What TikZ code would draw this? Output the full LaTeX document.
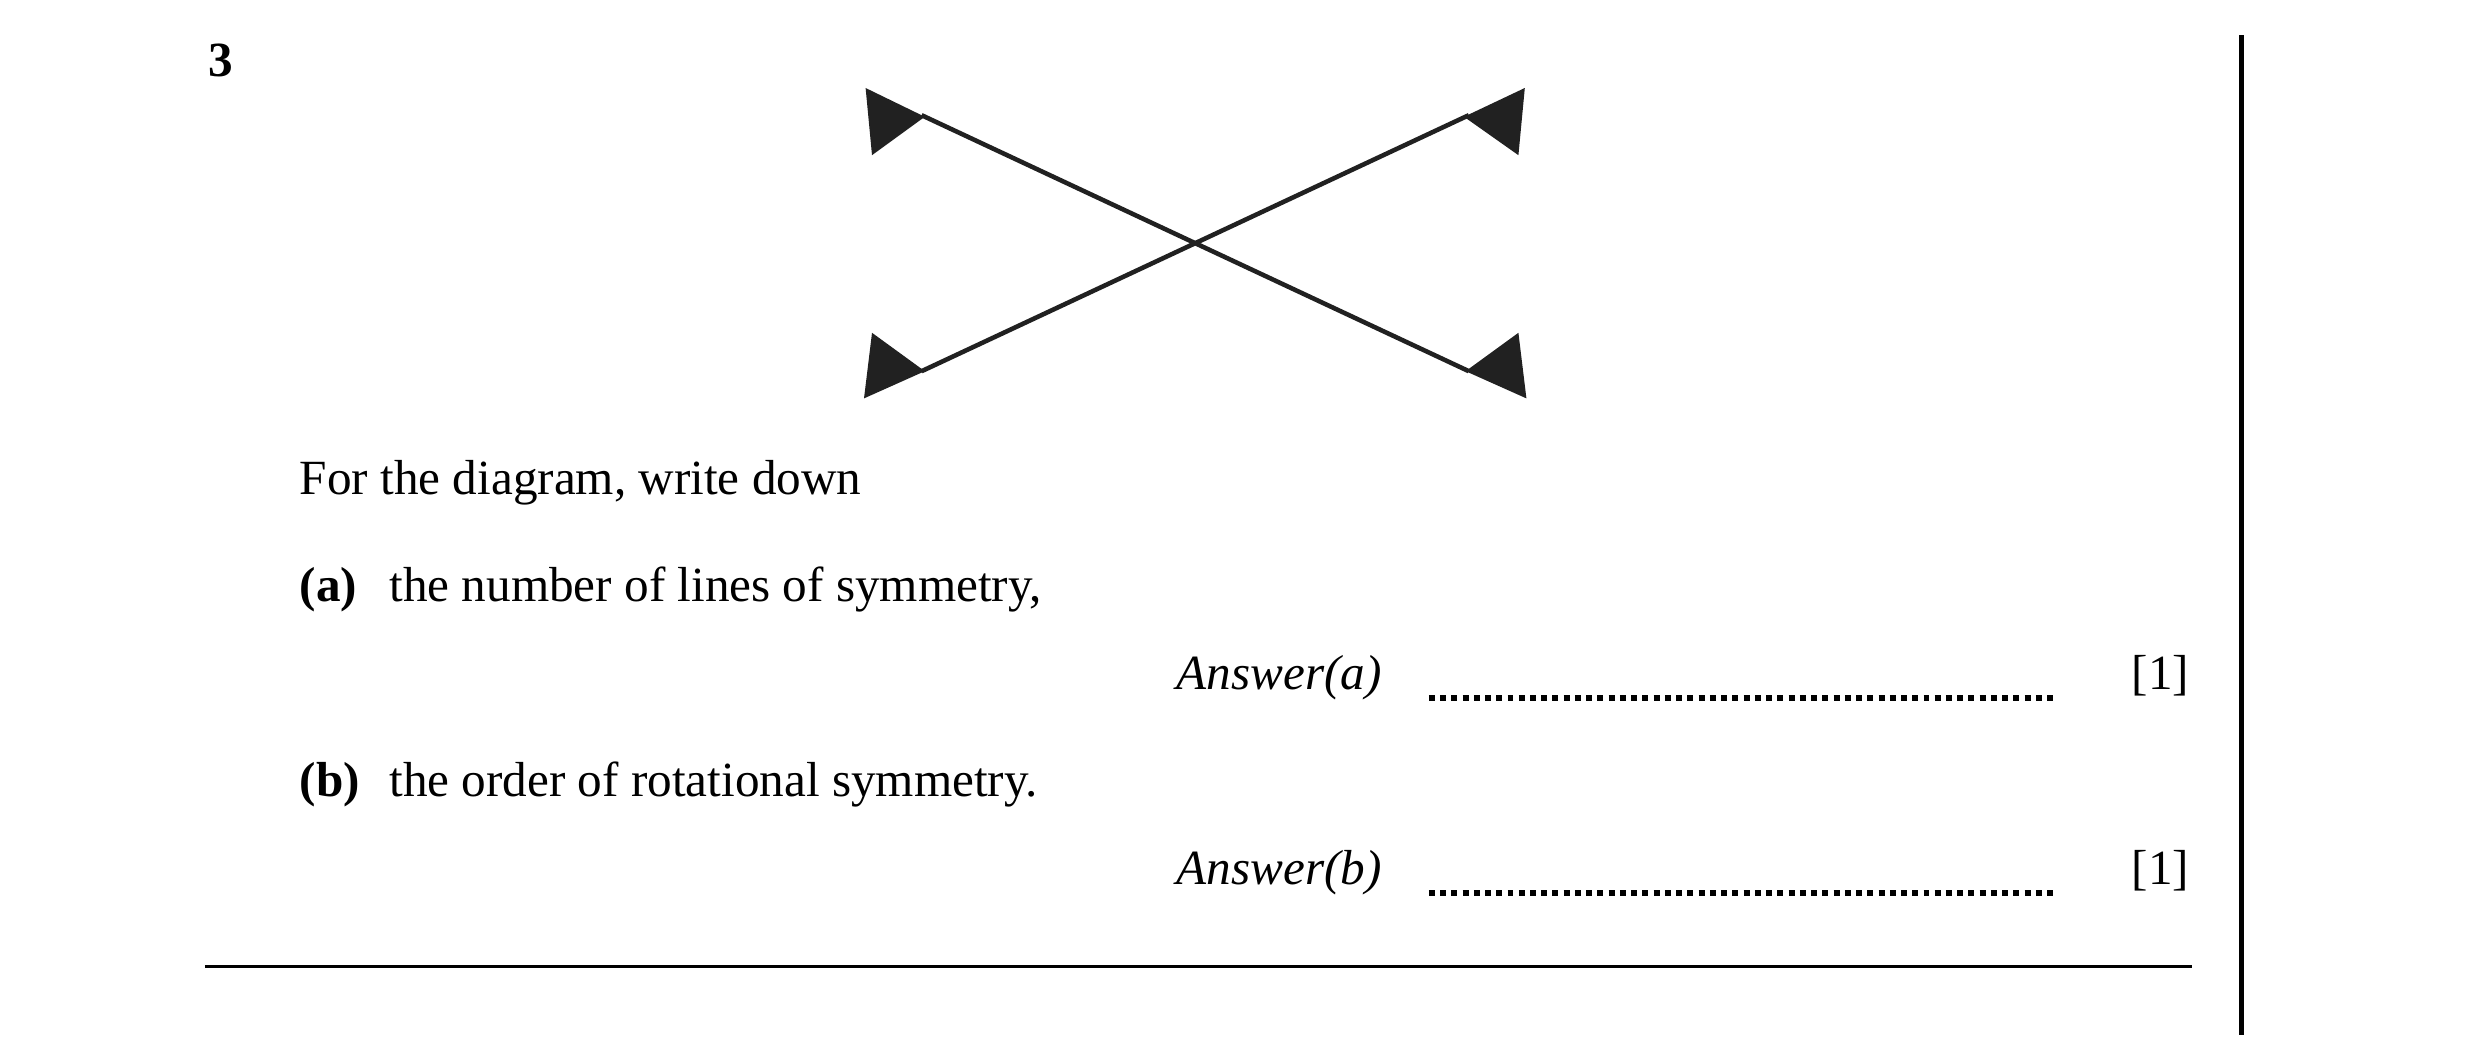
\documentclass[tikz,border=0pt]{standalone}
\usepackage{fontspec}
\setmainfont{Liberation Serif}
\begin{document}
\begin{tikzpicture}[x=0.016cm,y=-0.016cm,
  txt/.style={anchor=base west,inner sep=0,font=\fontsize{14}{16}\selectfont},
  flag/.style={fill=black!87,draw=none},
  ln/.style={line width=1.3pt,black!87},
  dots/.style={line width=1.7pt,dash pattern=on 1.7pt off 1.5pt}]
\useasboundingbox (0,0) rectangle (1550,662.5);
\node[txt,font=\fontsize{14}{16}\selectfont\bfseries] (q) at (130,48) {3};
% flags
\coordinate (ul) at (576,72); \coordinate (ur) at (918,72);
\coordinate (ll) at (576,232); \coordinate (lr) at (918,232);
\draw[ln] (ul) -- (lr);
\draw[ln] (ll) -- (ur);
\fill[flag] (541,55) -- (545,97) -- (578,73) -- cycle;
\fill[flag] (953,55) -- (949,97) -- (915,73) -- cycle;
\fill[flag] (540,249) -- (545,208) -- (578,232) -- cycle;
\fill[flag] (954,249) -- (949,208) -- (916,232) -- cycle;
\node[txt] (t1) at (187,309) {For the diagram, write down};
\node[txt,font=\fontsize{14}{16}\selectfont\bfseries] (a) at (187,376) {(a)};
\node[txt] (at) at (243,376) {the number of lines of symmetry,};
\node[txt,font=\fontsize{14}{16}\selectfont\itshape] (aa) at (735,431) {Answer(a)};
\coordinate (d1) at (893,436); \coordinate (d2) at (1285,436);
\draw[dots] (d1) -- (d2);
\node[txt] (m1) at (1332,431) {[1]};
\node[txt,font=\fontsize{14}{16}\selectfont\bfseries] (b) at (187,498) {(b)};
\node[txt] (bt) at (243,498) {the order of rotational symmetry.};
\node[txt,font=\fontsize{14}{16}\selectfont\itshape] (ba) at (735,553) {Answer(b)};
\coordinate (e1) at (893,558); \coordinate (e2) at (1285,558);
\draw[dots] (e1) -- (e2);
\node[txt] (m2) at (1332,553) {[1]};
\coordinate (h1) at (128,604); \coordinate (h2) at (1370,604);
\draw[line width=0.8pt] (h1) -- (h2);
\coordinate (v1) at (1401,22); \coordinate (v2) at (1401,647);
\draw[line width=1.6pt] (v1) -- (v2);
\end{tikzpicture}
\end{document}
